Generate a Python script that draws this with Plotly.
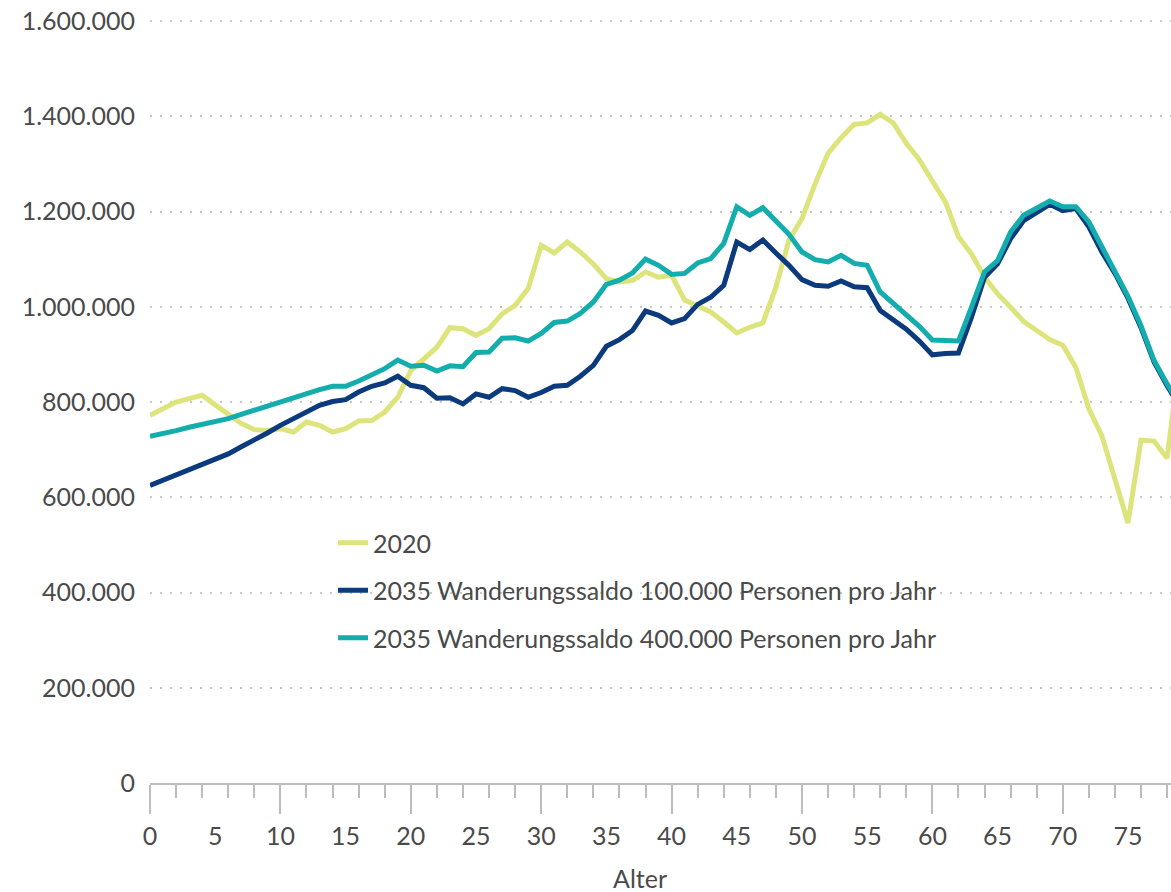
import plotly.graph_objects as go

ages = list(range(0, 80))

y2020 = [772, 786, 800, 807, 814, 794, 776, 755, 742, 740,
         744, 737, 758, 751, 737, 744, 760, 761, 779, 810,
         866, 891, 915, 956, 954, 940, 954, 985, 1003, 1038,
         1129, 1113, 1136, 1115, 1090, 1059, 1052, 1055, 1073, 1062,
         1066, 1014, 1001, 989, 968, 945, 957, 966, 1041, 1140,
         1185, 1258, 1322, 1355, 1383, 1386, 1404, 1386, 1343, 1309,
         1264, 1220, 1147, 1111, 1062, 1027, 999, 969, 950, 931,
         919, 873, 786, 729, 638, 546, 720, 718, 682, 900]

y2035_100 = [625, 636, 646, 657, 667, 679, 691, 706, 720, 735,
             751, 765, 779, 793, 801, 805, 821, 833, 840, 854,
             835, 830, 808, 809, 796, 817, 810, 828, 824, 810,
             820, 833, 835, 854, 877, 917, 931, 950, 991, 982,
             966, 975, 1005, 1020, 1045, 1136, 1120, 1140, 1113, 1087,
             1057, 1045, 1043, 1054, 1042, 1040, 992, 973, 953, 928,
             899, 902, 903, 978, 1062, 1090, 1143, 1181, 1199, 1215,
             1202, 1206, 1168, 1115, 1070, 1018, 956, 884, 834, 790]

y2035_400 = [728, 733, 740, 747, 753, 758, 765, 774, 783, 791,
             800, 809, 818, 826, 833, 833, 844, 858, 870, 888,
             875, 877, 865, 876, 874, 904, 905, 934, 935, 928,
             944, 967, 970, 986, 1010, 1047, 1056, 1071, 1100, 1087,
             1068, 1070, 1092, 1101, 1133, 1210, 1192, 1208, 1180, 1152,
             1115, 1099, 1094, 1108, 1091, 1087, 1031, 1007, 984, 959,
             930, 929, 928, 999, 1073, 1097, 1157, 1192, 1208, 1222,
             1210, 1210, 1178, 1125, 1075, 1022, 960, 887, 838, 795]

series_names = ["2020",
                "2035 Wanderungssaldo 100.000 Personen pro Jahr",
                "2035 Wanderungssaldo 400.000 Personen pro Jahr"]
series_colors = ["#dde47c", "#0b3b7d", "#12adac"]

y_tickvals = [0, 200000, 400000, 600000, 800000, 1000000, 1200000, 1400000, 1600000]
y_ticktext = ["0", "200.000", "400.000", "600.000", "800.000",
              "1.000.000", "1.200.000", "1.400.000", "1.600.000"]
x_labelvals = list(range(0, 80, 5))
x_majorvals = list(range(0, 80, 10))

FONT = "Lato"
FS = 25
TXT = "#4a4a4a"
AX = "#bdbdbd"

W, H = 1171, 892
L, T, B = 150, 17, 109
PW = W - L
PH = H - T - B          # 766 px
Y_TOP = 1600000 * PH / 762  # a few px of headroom above the 1.600.000 grid line

fig = go.Figure()
for name, vals, col in zip(series_names, [y2020, y2035_100, y2035_400], series_colors):
    fig.add_trace(go.Scatter(
        x=ages, y=[v * 1000 for v in vals], mode="lines", name=name,
        legendgroup=name,
        line=dict(color=col, width=5, shape="linear"),
        hoverinfo="skip",
    ))

# overlay axis carrying the labels every 5 years
fig.add_trace(go.Scatter(x=[], y=[], xaxis="x2", showlegend=False, hoverinfo="skip"))

fig.update_layout(
    width=W, height=H,
    margin=dict(l=L, r=0, t=T, b=B, autoexpand=False),
    paper_bgcolor="white", plot_bgcolor="white",
    font=dict(family=FONT, size=FS, color=TXT),
    showlegend=True,
    legend=dict(
        x=(333 - 150) / PW, y=(783 - 520) / PH, xanchor="left", yanchor="top",
        font=dict(family=FONT, size=FS, color=TXT),
        bgcolor="rgba(0,0,0,0)", tracegroupgap=12, itemwidth=30,
    ),
    xaxis=dict(
        range=[0, 78.3], showgrid=False, zeroline=False, automargin=False,
        showline=True, linecolor=AX, linewidth=2,
        tickmode="array", tickvals=x_majorvals, showticklabels=False,
        ticks="outside", ticklen=29, tickwidth=2, tickcolor=AX,
        minor=dict(dtick=2, tick0=0, ticks="outside", ticklen=13, tickwidth=2,
                   tickcolor=AX, showgrid=False),
    ),
    xaxis2=dict(
        overlaying="x", matches="x", anchor="y", side="bottom", automargin=False,
        range=[0, 78.3], showgrid=False, zeroline=False, showline=False,
        tickmode="array", tickvals=x_labelvals, ticktext=[str(v) for v in x_labelvals],
        ticks="", ticklabelstandoff=36,
        tickfont=dict(family=FONT, size=FS, color=TXT),
    ),
    yaxis=dict(
        range=[0, Y_TOP], zeroline=False, showline=False, automargin=False,
        tickmode="array", tickvals=y_tickvals, ticktext=y_ticktext,
        ticks="", ticklabelstandoff=14,
        tickfont=dict(family=FONT, size=FS, color=TXT),
        showgrid=True, gridcolor="#c8c8c8", gridwidth=1.5, griddash="2px,8px",
    ),
    annotations=[dict(
        text="Alter", xref="paper", yref="paper",
        x=(640 - 150) / PW, y=-(878 - 783) / PH,
        xanchor="center", yanchor="middle", showarrow=False,
        font=dict(family=FONT, size=FS, color=TXT),
    )],
)

fig.write_html(
    "out.html",
    config={"displayModeBar": False},
    post_script="document.body.style.margin='0';document.body.style.overflow='hidden';",
)
